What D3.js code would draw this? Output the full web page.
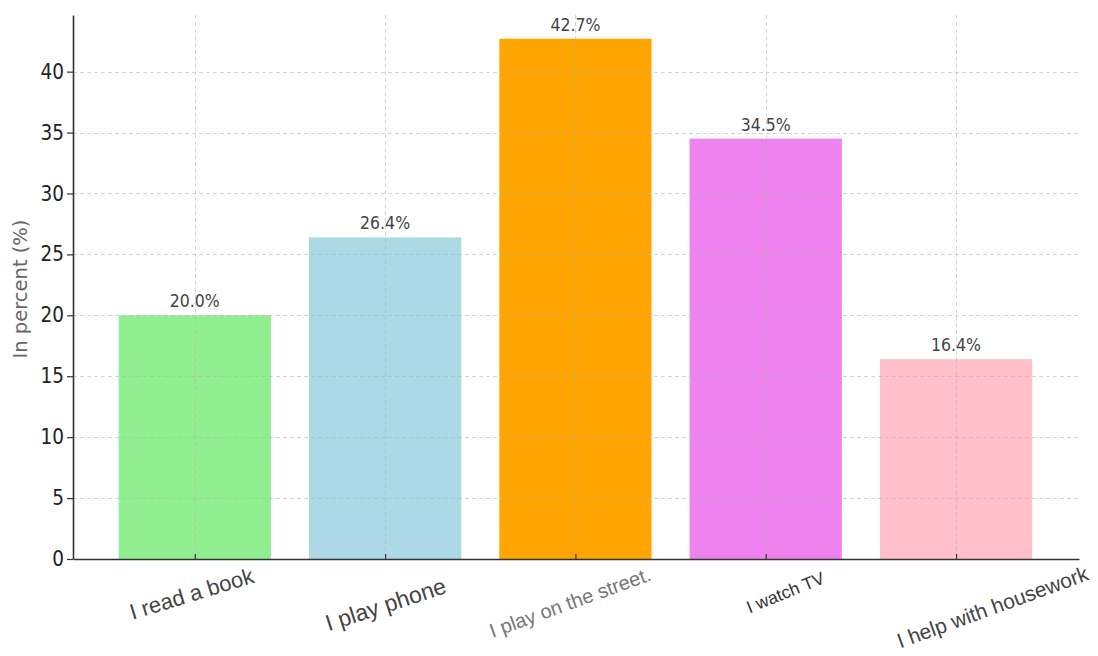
<!DOCTYPE html>
<html>
<head>
<meta charset="utf-8">
<script src="https://cdn.jsdelivr.net/npm/d3@7/dist/d3.min.js"></script>
<style>
  html, body { margin: 0; padding: 0; background: #fff; }
  svg { display: block; }
</style>
</head>
<body>
<svg id="chart" width="1098" height="656"></svg>
<script>
// ---- data ----
const categories = ["I read a book", "I play phone", "I play on the street.", "I watch TV", "I help with housework"];
const values = [20.0, 26.4, 42.7, 34.5, 16.4];
const barColors = ["#90EE90", "#ADD8E6", "#FFA500", "#EE82EE", "#FFC0CB"];
const yTicks = [0, 5, 10, 15, 20, 25, 30, 35, 40];
const yLabel = "In percent (%)";

// per-label styling of the category labels (they differ in the reference)
const labelStyle = [
  { dx: -1, y: 601, size: 22, angle: -17, color: "#444" },
  { dx: 3,  y: 612, size: 23, angle: -18, color: "#444" },
  { dx: -3, y: 609, size: 20, angle: -20, color: "#777" },
  { dx: 22, y: 598, size: 17.5, angle: -22, color: "#333" },
  { dx: 39, y: 614, size: 21, angle: -20, color: "#444" }
];

// ---- layout ----
const svg = d3.select("#chart");
const mLeft = 73, mRight = 1079, mTop = 15, mBottom = 559;

const x = d3.scaleLinear().domain([-0.64, 4.646]).range([mLeft, mRight]);
const y = d3.scaleLinear().domain([0, 44.65]).range([mBottom, mTop]);
const barHalf = 0.4;

// bars
svg.append("g").selectAll("rect")
  .data(values)
  .join("rect")
  .attr("x", (d, i) => x(i - barHalf))
  .attr("width", (d, i) => x(i + barHalf) - x(i - barHalf))
  .attr("y", d => y(d))
  .attr("height", d => y(0) - y(d))
  .attr("fill", (d, i) => barColors[i]);

// grid (drawn faintly over the bars)
const grid = svg.append("g")
  .attr("stroke", "#b0b0b0")
  .attr("stroke-opacity", 0.55)
  .attr("stroke-width", 1)
  .attr("stroke-dasharray", "4,3");
grid.selectAll("line.h")
  .data(yTicks.filter(t => t > 0))
  .join("line")
  .attr("class", "h")
  .attr("x1", mLeft).attr("x2", mRight)
  .attr("y1", d => Math.round(y(d)) + 0.5).attr("y2", d => Math.round(y(d)) + 0.5);
grid.selectAll("line.v")
  .data(categories)
  .join("line")
  .attr("class", "v")
  .attr("x1", (d, i) => Math.round(x(i)) + 0.5).attr("x2", (d, i) => Math.round(x(i)) + 0.5)
  .attr("y1", mTop).attr("y2", mBottom);

// y axis
const yAxis = svg.append("g")
  .attr("transform", `translate(${mLeft},0)`)
  .call(d3.axisLeft(y).tickValues(yTicks).tickSize(6).tickPadding(3).tickSizeOuter(0));
yAxis.select(".domain").attr("stroke", "#333").attr("stroke-width", 1.6);
yAxis.selectAll(".tick line").attr("stroke", "#333").attr("stroke-width", 1.2);
yAxis.selectAll(".tick text")
  .attr("font-family", "'DejaVu Sans Condensed', 'DejaVu Sans', sans-serif")
  .attr("font-size", 20.5)
  .attr("fill", "#222");

// x axis
const xAxis = svg.append("g")
  .attr("transform", `translate(0,${mBottom})`)
  .call(d3.axisBottom(x).tickValues(d3.range(categories.length)).tickSize(-5).tickSizeOuter(0).tickFormat(""));
xAxis.select(".domain").attr("stroke", "#333").attr("stroke-width", 1.6);
xAxis.selectAll(".tick line").attr("stroke", "#333").attr("stroke-width", 1.2);

// category labels
svg.append("g").selectAll("text")
  .data(categories)
  .join("text")
  .attr("transform", (d, i) => `translate(${x(i) + labelStyle[i].dx},${labelStyle[i].y}) rotate(${labelStyle[i].angle})`)
  .attr("text-anchor", "middle")
  .attr("font-family", "'Liberation Sans', Arial, sans-serif")
  .attr("font-size", (d, i) => labelStyle[i].size)
  .attr("fill", (d, i) => labelStyle[i].color)
  .text(d => d);

// value labels
svg.append("g").selectAll("text")
  .data(values)
  .join("text")
  .attr("x", (d, i) => x(i))
  .attr("y", d => y(d) - 8)
  .attr("text-anchor", "middle")
  .attr("font-family", "'DejaVu Sans Condensed', 'DejaVu Sans', sans-serif")
  .attr("font-size", 17.5)
  .attr("fill", "#444")
  .text(d => d.toFixed(1) + "%");

// y label
svg.append("text")
  .attr("transform", `translate(27,289) rotate(-90)`)
  .attr("text-anchor", "middle")
  .attr("font-family", "'DejaVu Sans', sans-serif")
  .attr("font-size", 19.5)
  .attr("fill", "#666")
  .text(yLabel);
</script>
</body>
</html>
